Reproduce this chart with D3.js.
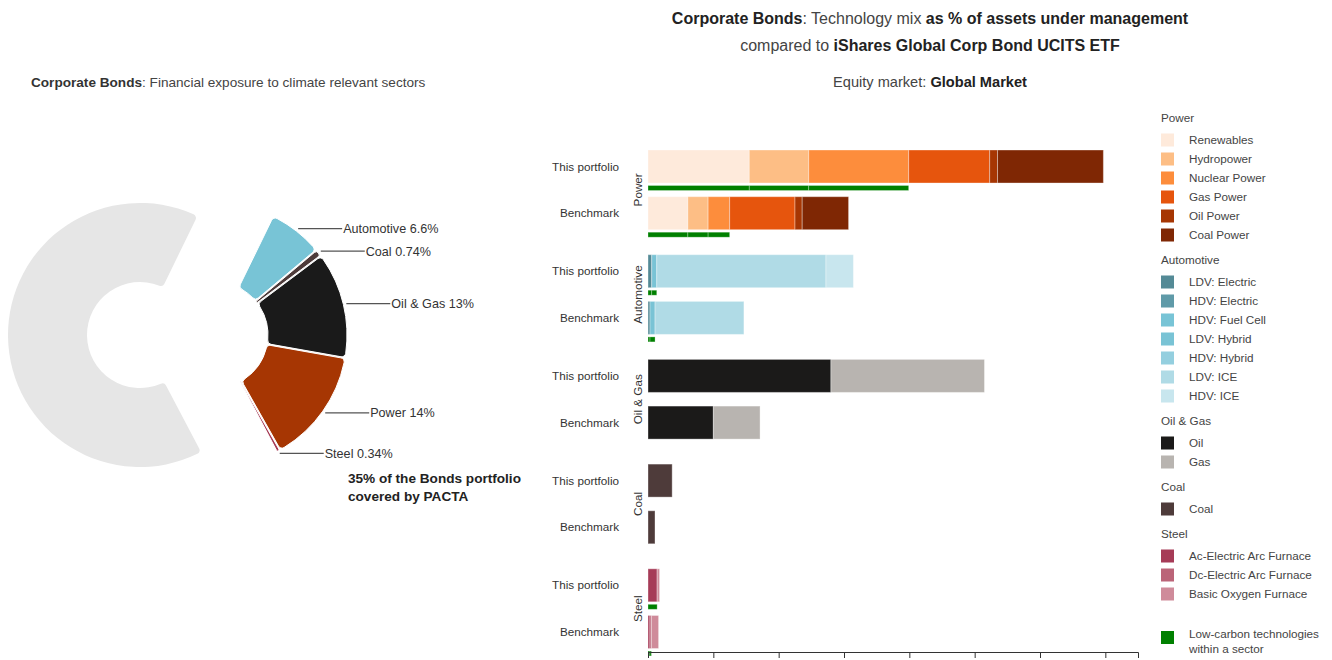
<!DOCTYPE html>
<html>
<head>
<meta charset="utf-8">
<script src="https://cdn.jsdelivr.net/npm/d3@7"></script>
<style>
  body { margin: 0; background: #fff; font-family: "Liberation Sans", Arial, sans-serif; }
  svg text { font-family: "Liberation Sans", Arial, sans-serif; }
</style>
</head>
<body>
<div id="chart"></div>
<script>
// sector exposure (pie)
var pieSectors = ["Automotive", "Coal", "Oil & Gas", "Power", "Steel"];
var pieLabels = ["6.6%", "0.74%", "13%", "14%", "0.34%"];
var pieShares = [6.6, 0.74, 13, 14, 0.34];
var pieColors = ["#78c4d6", "#4e3b3a", "#1a1a1a", "#a63603", "#a63b55"];
var uncoveredShare = 65.32;

// technology mix bars (% of AUM)
var sectors = ["Power", "Automotive", "Oil & Gas", "Coal", "Steel"];
var groups = ["This portfolio", "Benchmark"];
var xTicks = [0, 1, 2, 3, 4, 5, 6, 7];

var powerTechs = ["Renewables", "Hydropower", "Nuclear Power", "Gas Power", "Oil Power", "Coal Power"];
var powerColors = ["#feeadb", "#fdbe85", "#fd8d3c", "#e6550d", "#a63603", "#7f2704"];
var powerLowCarbon = [true, true, true, false, false, false];
var powerPortfolio = [1.55, 0.91, 1.53, 1.24, 0.12, 1.62];
var powerBenchmark = [0.61, 0.31, 0.33, 1.0, 0.11, 0.71];

var autoTechs = ["LDV: Electric", "HDV: Electric", "HDV: Fuel Cell", "LDV: Hybrid", "HDV: Hybrid", "LDV: ICE", "HDV: ICE"];
var autoColors = ["#548a96", "#5f9aa8", "#78c4d6", "#79c3d5", "#94cfdf", "#b0dbe6", "#c8e6ee"];
var autoLowCarbon = [true, true, true, true, true, false, false];
var autoPortfolio = [0.057, 0, 0, 0.077, 0, 2.59, 0.42];
var autoBenchmark = [0.031, 0, 0, 0.077, 0, 1.36, 0];

var oilGasTechs = ["Oil", "Gas"];
var oilGasColors = ["#1b1a19", "#b8b4b0"];
var oilGasLowCarbon = [false, false];
var oilGasPortfolio = [2.8, 2.35];
var oilGasBenchmark = [1.0, 0.715];

var coalTechs = ["Coal"];
var coalColors = ["#4e3b3a"];
var coalLowCarbon = [false];
var coalPortfolio = [0.37];
var coalBenchmark = [0.107];

var steelTechs = ["Ac-Electric Arc Furnace", "Dc-Electric Arc Furnace", "Basic Oxygen Furnace"];
var steelColors = ["#a63b57", "#bb6478", "#cf8b9a"];
var steelLowCarbon = [true, true, false];
var steelPortfolio = [0.14, 0, 0.037];
var steelBenchmark = [0.03, 0.022, 0.11];

document.addEventListener('DOMContentLoaded', function () {
    var width = 1332, height = 660;

    var svg = d3.select("#chart").append("svg")
        .attr("width", width)
        .attr("height", height);

    var sectorTable = [
        { name: "Power", techs: powerTechs, colors: powerColors, low: powerLowCarbon, values: [powerPortfolio, powerBenchmark] },
        { name: "Automotive", techs: autoTechs, colors: autoColors, low: autoLowCarbon, values: [autoPortfolio, autoBenchmark] },
        { name: "Oil & Gas", techs: oilGasTechs, colors: oilGasColors, low: oilGasLowCarbon, values: [oilGasPortfolio, oilGasBenchmark] },
        { name: "Coal", techs: coalTechs, colors: coalColors, low: coalLowCarbon, values: [coalPortfolio, coalBenchmark] },
        { name: "Steel", techs: steelTechs, colors: steelColors, low: steelLowCarbon, values: [steelPortfolio, steelBenchmark] }
    ];

    // ---------- left: pie ----------
    svg.append("text")
        .attr("x", 31).attr("y", 87)
        .attr("font-size", 13.6).attr("fill", "#444")
        .call(function (t) {
            t.append("tspan").attr("font-weight", "bold").attr("fill", "#333").text("Corporate Bonds");
            t.append("tspan").text(": Financial exposure to climate relevant sectors");
        });

    var pieData = pieSectors.map(function (s, i) {
        return { name: s, label: pieLabels[i], value: pieShares[i], color: pieColors[i], covered: true };
    });
    pieData.push({ name: "Not covered", value: uncoveredShare, color: "#e6e6e6", covered: false });

    var start = 26 * Math.PI / 180;
    var pie = d3.pie().sort(null).value(d => d.value)
        .startAngle(start).endAngle(start + 2 * Math.PI)
        .padAngle(0.008);
    var arc = d3.arc().innerRadius(53).outerRadius(132).cornerRadius(4);
    var arcs = pie(pieData);

    var pieG = svg.append("g").attr("transform", "translate(140,335)");
    pieG.selectAll("path.grey")
        .data(arcs.filter(d => !d.data.covered))
        .enter().append("path")
        .attr("class", "grey")
        .attr("fill", d => d.data.color)
        .attr("d", arc);

    var covG = pieG.append("g").attr("transform", "translate(75,0)");
    covG.selectAll("path.slice")
        .data(arcs.filter(d => d.data.covered))
        .enter().append("path")
        .attr("class", "slice")
        .attr("fill", d => d.data.color)
        .attr("stroke", "#fff")
        .attr("stroke-width", 1)
        .attr("d", arc);

    // leader lines + labels
    var labelR = 135;
    covG.selectAll("g.lbl")
        .data(arcs.filter(d => d.data.covered))
        .enter().append("g")
        .attr("class", "lbl")
        .each(function (d) {
            var a = (d.startAngle + d.endAngle) / 2;
            var px = labelR * Math.sin(a), py = -labelR * Math.cos(a);
            var g = d3.select(this);
            g.append("line")
                .attr("x1", px).attr("y1", py)
                .attr("x2", px + 44).attr("y2", py)
                .attr("stroke", "#555").attr("stroke-width", 1.3);
            g.append("text")
                .attr("x", px + 45).attr("y", py).attr("dy", "0.35em")
                .attr("font-size", 12.6).attr("fill", "#333")
                .text(d.data.name + " " + d.data.label);
        });

    svg.append("text")
        .attr("x", 348).attr("y", 483)
        .attr("font-size", 13.6).attr("font-weight", "bold").attr("fill", "#222")
        .text("35% of the Bonds portfolio");
    svg.append("text")
        .attr("x", 348).attr("y", 501)
        .attr("font-size", 13.6).attr("font-weight", "bold").attr("fill", "#222")
        .text("covered by PACTA");

    // ---------- right: titles ----------
    var title = svg.append("text")
        .attr("x", 930).attr("text-anchor", "middle")
        .attr("font-size", 16).attr("fill", "#444");
    title.append("tspan").attr("x", 930).attr("y", 24)
        .call(function (t) {
            t.append("tspan").attr("font-weight", "bold").attr("fill", "#222").text("Corporate Bonds");
            t.append("tspan").text(": Technology mix ");
            t.append("tspan").attr("font-weight", "bold").attr("fill", "#222").text("as % of assets under management");
        });
    title.append("tspan").attr("x", 930).attr("y", 51)
        .call(function (t) {
            t.append("tspan").text("compared to ");
            t.append("tspan").attr("font-weight", "bold").attr("fill", "#222").text("iShares Global Corp Bond UCITS ETF");
        });

    svg.append("text")
        .attr("x", 930).attr("y", 87).attr("text-anchor", "middle")
        .attr("font-size", 14.6).attr("fill", "#444")
        .call(function (t) {
            t.append("tspan").text("Equity market: ");
            t.append("tspan").attr("font-weight", "bold").attr("fill", "#222").text("Global Market");
        });

    // ---------- scales ----------
    var x = d3.scaleLinear().domain([0, 7.5]).range([648, 1138]);
    var ySector = d3.scaleBand().domain(sectors).range([150, 150 + 5 * 104.7]);
    var yGroup = d3.scaleBand().domain(groups).range([0, 79.7]).paddingInner(0.293);

    var barsG = svg.append("g");
    sectorTable.forEach(function (sec) {
        var sg = barsG.append("g").attr("transform", "translate(0," + ySector(sec.name) + ")");

        groups.forEach(function (grp, gi) {
            var vals = sec.values[gi];
            var acc = 0, segs = [];
            vals.forEach(function (v, i) {
                segs.push({ x0: acc, x1: acc + v, color: sec.colors[i], low: sec.low[i] });
                acc += v;
            });
            segs = segs.filter(s => s.x1 > s.x0);
            var y0 = yGroup(grp), bh = yGroup.bandwidth();

            sg.selectAll(null)
                .data(segs)
                .enter().append("rect")
                .attr("x", d => x(d.x0))
                .attr("width", d => x(d.x1) - x(d.x0))
                .attr("y", y0)
                .attr("height", bh)
                .attr("fill", d => d.color)
                .attr("stroke", "#fff")
                .attr("stroke-opacity", 0.35)
                .attr("stroke-width", 1);

            // low-carbon bar under each stack
            sg.selectAll(null)
                .data(segs.filter(s => s.low))
                .enter().append("rect")
                .attr("x", d => x(d.x0))
                .attr("width", d => x(d.x1) - x(d.x0))
                .attr("y", y0 + bh + 2.5)
                .attr("height", 5)
                .attr("fill", "#008000")
                .attr("stroke", "#fff")
                .attr("stroke-opacity", 0.35)
                .attr("stroke-width", 0.8);

            sg.append("text")
                .attr("x", 619).attr("y", y0 + bh / 2).attr("dy", "0.35em")
                .attr("text-anchor", "end")
                .attr("font-size", 11.7).attr("fill", "#333")
                .text(grp);
        });

        sg.append("text")
            .attr("transform", "translate(642," + (79.7 / 2) + ") rotate(-90)")
            .attr("text-anchor", "middle")
            .attr("font-size", 11.7).attr("fill", "#333")
            .text(sec.name);
    });

    // x axis (its labels sit below the visible area, so none are drawn)
    var xAxis = svg.append("g")
        .attr("transform", "translate(0,652)")
        .call(d3.axisBottom(x).tickValues(xTicks).tickSize(6).tickFormat(""));
    xAxis.select(".domain").attr("stroke", "#333");
    xAxis.selectAll(".tick line").attr("stroke", "#333");

    // ---------- legend ----------
    var legend = svg.append("g");
    var ly = 118;
    sectorTable.forEach(function (sec) {
        legend.append("text")
            .attr("x", 1161).attr("y", ly).attr("dy", "0.35em")
            .attr("font-size", 11.7).attr("fill", "#444")
            .text(sec.name);
        ly += 22;
        sec.techs.forEach(function (t, i) {
            legend.append("rect")
                .attr("x", 1161).attr("y", ly - 6.5)
                .attr("width", 13).attr("height", 13)
                .attr("fill", sec.colors[i]);
            legend.append("text")
                .attr("x", 1189).attr("y", ly).attr("dy", "0.35em")
                .attr("font-size", 11.7).attr("fill", "#444")
                .text(t);
            ly += 19;
        });
        ly += 6;
    });
    legend.append("rect")
        .attr("x", 1161).attr("y", 631)
        .attr("width", 13).attr("height", 13)
        .attr("fill", "#008000");
    legend.append("text")
        .attr("x", 1189).attr("y", 634).attr("dy", "0.35em")
        .attr("font-size", 11.7).attr("fill", "#444")
        .text("Low-carbon technologies");
    legend.append("text")
        .attr("x", 1189).attr("y", 649).attr("dy", "0.35em")
        .attr("font-size", 11.7).attr("fill", "#444")
        .text("within a sector");
});
</script>
</body>
</html>
